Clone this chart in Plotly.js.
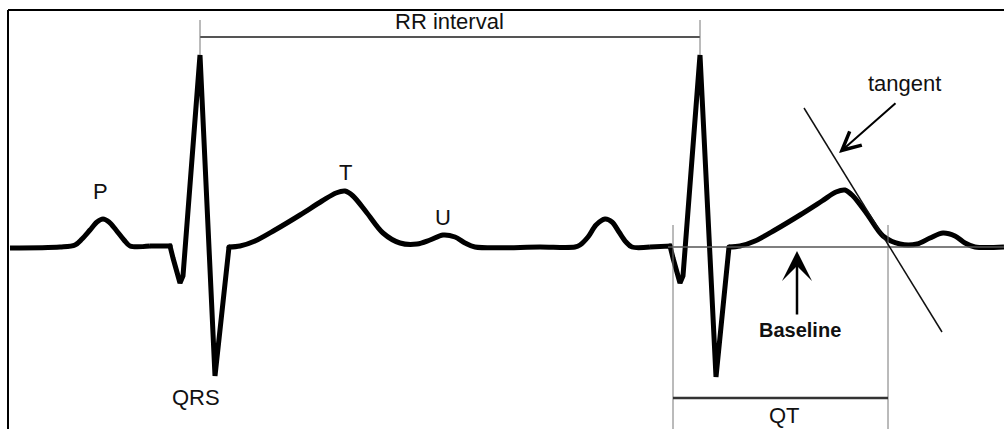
<!DOCTYPE html>
<html>
<head>
<meta charset="utf-8">
<script src="https://cdn.plot.ly/plotly-3.0.1.min.js"></script>
<style>html,body{margin:0;padding:0;background:#fff;}#chart{width:1004px;height:429px;}</style>
</head>
<body>
<div id="chart"></div>
<script>
// ECG waveform (horizontal position, vertical position; y grows downward)
const ecgX = [10, 60, 75, 82, 90, 97, 103, 109, 116, 124, 130, 150, 170, 173, 177, 180, 183, 200, 215, 229,
  240, 255, 275, 300, 322, 336, 345, 353, 367, 383, 400, 417, 430, 443, 455, 465, 475, 540, 575,
  580, 588, 596, 605, 612, 619, 626, 632, 650, 670, 673, 677, 680, 683, 700, 716, 729,
  740, 755, 775, 800, 822, 836, 845, 853, 867, 883, 900, 917, 930, 943, 955, 965, 975, 1004];
const ecgY = [248, 247, 245, 239, 230, 222, 219, 222, 230, 240, 246, 246, 246, 258, 275, 283, 276, 55, 376, 247,
  246, 241, 230, 215, 201, 193, 191, 196, 213, 233, 243, 244, 240, 235, 237, 243, 247, 247, 247,
  245, 237, 225, 219, 222, 232, 242, 247, 247, 246, 258, 275, 283, 276, 55, 377, 247,
  246, 241, 230, 215, 201, 192, 190, 196, 214, 236, 244, 244, 238, 233, 236, 243, 247, 247];

// QRS complexes (start, end) – drawn with straight strokes
const qrsStart = [170, 670];
const qrsEnd = [229, 729];

// Wave labels
const waveLabels = ["P", "T", "U", "QRS"];
const waveLabelX = [100, 345, 443, 196];
const waveLabelY = [191, 172, 217, 397];

// Interval markers
const rPeak1 = 200, rPeak2 = 700, qStart = 673, tEnd = 888, baselineY = 247;

const FONT = "Liberation Sans, Arial, sans-serif";
const gray = "#555555";

// split the trace into smooth (P/T/U) parts and sharp (QRS) parts
function inQRS(x) {
  for (let k = 0; k < qrsStart.length; k++) if (x >= qrsStart[k] && x <= qrsEnd[k]) return true;
  return false;
}
const segs = [];
let cur = null;
for (let i = 0; i < ecgX.length; i++) {
  const kind = inQRS(ecgX[i]) ? "linear" : "spline";
  if (!cur || cur.kind !== kind) {
    const seg = {kind: kind, x: [], y: []};
    if (cur) { seg.x.push(ecgX[i - 1]); seg.y.push(ecgY[i - 1]); }
    cur = seg; segs.push(seg);
  }
  cur.x.push(ecgX[i]); cur.y.push(ecgY[i]);
}
const data = segs.map(s => ({
  x: s.x, y: s.y, type: "scatter", mode: "lines",
  line: {color: "#000", width: 5, shape: s.kind, smoothing: 0.9},
  hoverinfo: "skip"
}));
// round joints at the segment boundaries
const joints = qrsStart.concat(qrsEnd);
data.push({
  x: joints, y: joints.map(v => ecgY[ecgX.indexOf(v)]),
  type: "scatter", mode: "markers", marker: {color: "#000", size: 5}, hoverinfo: "skip"
});

const shapes = [
  // frame
  {type: "line", x0: 8, x1: 1004, y0: 10, y1: 10, line: {color: "#000", width: 2}},
  {type: "line", x0: 8, x1: 8, y0: 10, y1: 429, line: {color: "#000", width: 2}},
  // RR interval
  {type: "line", x0: rPeak1, x1: rPeak2, y0: 37, y1: 37, line: {color: gray, width: 2}},
  {type: "line", x0: rPeak1, x1: rPeak1, y0: 20, y1: 55, line: {color: "#777", width: 1}},
  {type: "line", x0: rPeak2, x1: rPeak2, y0: 20, y1: 55, line: {color: "#777", width: 1}},
  // baseline
  {type: "line", x0: 668, x1: 1004, y0: baselineY, y1: baselineY, line: {color: gray, width: 1.5}},
  // QT
  {type: "line", x0: qStart, x1: qStart, y0: 225, y1: 429, line: {color: "#777", width: 1}},
  {type: "line", x0: tEnd, x1: tEnd, y0: 225, y1: 429, line: {color: "#777", width: 1}},
  {type: "line", x0: qStart, x1: tEnd, y0: 398, y1: 398, line: {color: "#333", width: 2.5}},
  // tangent
  {type: "line", x0: 804, x1: 942, y0: 108, y1: 332, line: {color: "#111", width: 1.5}}
];

const annotations = waveLabels.map((t, i) => ({
  x: waveLabelX[i], y: waveLabelY[i], xref: "x", yref: "y", text: t, showarrow: false,
  font: {family: FONT, size: 22, color: "#111"}
}));
annotations.push(
  {x: 449, y: 21, xref: "x", yref: "y", text: "RR interval", showarrow: false, font: {family: FONT, size: 22, color: "#111"}},
  {x: 784, y: 415, xref: "x", yref: "y", text: "QT", showarrow: false, font: {family: FONT, size: 22, color: "#111"}},
  {x: 904, y: 83, xref: "x", yref: "y", text: "tangent", showarrow: false, font: {family: FONT, size: 22, color: "#111"}},
  {x: 800, y: 330, xref: "x", yref: "y", text: "<b>Baseline</b>", showarrow: false, font: {family: FONT, size: 20, color: "#111"}},
  {x: 797, y: 251, ax: 797, ay: 316, xref: "x", yref: "y", axref: "x", ayref: "y", text: "", showarrow: true,
   arrowhead: 3, arrowsize: 2, arrowwidth: 2.5, arrowcolor: "#000"},
  {x: 839, y: 153, ax: 897, ay: 102, xref: "x", yref: "y", axref: "x", ayref: "y", text: "", showarrow: true,
   arrowhead: 5, arrowsize: 1.8, arrowwidth: 2, arrowcolor: "#000"}
);

const layout = {
  width: 1004, height: 429,
  margin: {l: 0, r: 0, t: 0, b: 0},
  paper_bgcolor: "#fff", plot_bgcolor: "#fff",
  showlegend: false,
  xaxis: {range: [0, 1004], visible: false, fixedrange: true},
  yaxis: {range: [429, 0], visible: false, fixedrange: true},
  shapes: shapes,
  annotations: annotations
};

Plotly.newPlot("chart", data, layout, {staticPlot: true, displayModeBar: false});
</script>
</body>
</html>
